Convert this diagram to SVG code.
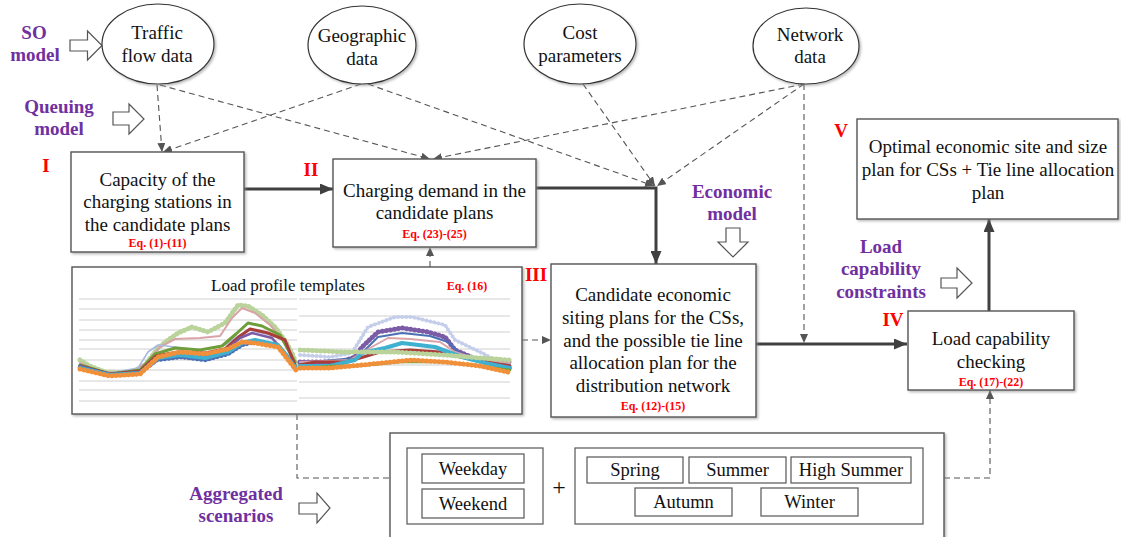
<svg xmlns="http://www.w3.org/2000/svg" width="1121" height="537" viewBox="0 0 1121 537">
<style>
text{font-family:"Liberation Serif","Times New Roman",serif;fill:#111;}
.t{font-size:19px;text-anchor:middle;}
.s{font-size:18.5px;text-anchor:middle;}
.p{font-size:19px;font-weight:bold;fill:#7030A0;text-anchor:middle;}
.r{font-size:19px;font-weight:bold;fill:#ff0000;text-anchor:middle;}
.eq{font-size:12px;font-weight:bold;fill:#ff0000;text-anchor:middle;}
.box{fill:#fff;stroke:#555;stroke-width:1.4;filter:url(#sh);}
.sbox{fill:#fff;stroke:#555;stroke-width:1.2;}
.ell{fill:#fff;stroke:#333;stroke-width:1.2;filter:url(#sh);}
.thick{fill:none;stroke:#404040;stroke-width:3;}
.dash{fill:none;stroke:#555;stroke-width:1.1;stroke-dasharray:6 4;}
.blk{fill:#fff;stroke:#555;stroke-width:1.2;}
.grid{stroke:#cfcfcf;stroke-width:1.2;}
.c polyline{fill:none;stroke-linejoin:round;stroke-linecap:round;}
.c .d{stroke-dasharray:0.1 4;}
</style>
<defs>
<filter id="sh" x="-10%" y="-10%" width="120%" height="130%">
<feDropShadow dx="1.5" dy="1.5" stdDeviation="1" flood-color="#888" flood-opacity="0.6"/>
</filter>
<marker id="ah" markerUnits="userSpaceOnUse" markerWidth="13" markerHeight="11" refX="13" refY="5.5" orient="auto">
<path d="M0,0 L13,5.5 L0,11 z" fill="#404040"/>
</marker>
<marker id="dh" markerUnits="userSpaceOnUse" markerWidth="9" markerHeight="8" refX="9" refY="4" orient="auto">
<path d="M0,0 L9,4 L0,8 z" fill="#555"/>
</marker>
</defs>
<rect width="1121" height="537" fill="#fff"/>

<g id="connectors">
<line class="dash" x1="157" y1="85" x2="162" y2="152" marker-end="url(#dh)"/>
<line class="dash" x1="361" y1="84" x2="163" y2="152" marker-end="url(#dh)"/>
<line class="dash" x1="160" y1="85" x2="430" y2="159" marker-end="url(#dh)"/>
<line class="dash" x1="804" y1="84" x2="433" y2="159" marker-end="url(#dh)"/>
<line class="dash" x1="368" y1="84" x2="654" y2="186" marker-end="url(#dh)"/>
<line class="dash" x1="583" y1="84" x2="655" y2="186" marker-end="url(#dh)"/>
<line class="dash" x1="804" y1="84" x2="657" y2="186" marker-end="url(#dh)"/>
<line class="dash" x1="804" y1="84" x2="804" y2="343" marker-end="url(#dh)"/>
<line class="thick" x1="244" y1="189" x2="333" y2="189" marker-end="url(#ah)"/>
<polyline class="thick" points="536,188 656,188 656,264" marker-end="url(#ah)"/>
<line class="thick" x1="756" y1="344" x2="907" y2="344" marker-end="url(#ah)"/>
<line class="thick" x1="989" y1="311" x2="989" y2="219" marker-end="url(#ah)"/>
<line class="dash" x1="430" y1="267" x2="430" y2="247" marker-end="url(#dh)"/>
<line class="dash" x1="522" y1="340" x2="551" y2="340" marker-end="url(#dh)"/>
<polyline class="dash" points="297,414 297,478 390,478"/>
<polyline class="dash" points="944,478 990,478 990,390" marker-end="url(#dh)"/>
</g>

<g id="model-labels">
<text class="p" x="34" y="39">SO</text>
<text class="p" x="35" y="61">model</text>
<path class="blk" d="M70,40 L87.5,40 L87.5,31 L102,45.5 L87.5,60 L87.5,51 L70,51 z"/>
<text class="p" x="59" y="113">Queuing</text>
<text class="p" x="59" y="135">model</text>
<path class="blk" d="M113,112 L129,112 L129,104 L144,119 L129,134 L129,125 L113,125 z"/>
<text class="p" x="732" y="198">Economic</text>
<text class="p" x="732" y="220">model</text>
<path class="blk" d="M726,228 L740,228 L740,242 L748,242 L733,257 L718,242 L726,242 z"/>
<text class="p" x="881" y="253">Load</text>
<text class="p" x="881" y="275">capability</text>
<text class="p" x="881" y="298">constraints</text>
<path class="blk" d="M941,278 L957,278 L957,268 L972,283 L957,298 L957,288 L941,288 z"/>
<text class="p" x="236" y="500">Aggregated</text>
<text class="p" x="236" y="522">scenarios</text>
<path class="blk" d="M299,503 L317,503 L317,493 L330,508 L317,523 L317,514 L299,514 z"/>
</g>

<g id="traffic-flow-data">
<ellipse class="ell" cx="158" cy="44" rx="56" ry="40"/>
<text class="t" x="157" y="39">Traffic</text>
<text class="t" x="157" y="62">flow data</text>
</g>
<g id="geographic-data">
<ellipse class="ell" cx="362" cy="45" rx="54" ry="39"/>
<text class="t" x="362" y="42">Geographic</text>
<text class="t" x="362" y="65">data</text>
</g>
<g id="cost-parameters">
<ellipse class="ell" cx="580" cy="44" rx="56" ry="40"/>
<text class="t" x="580" y="39">Cost</text>
<text class="t" x="580" y="62">parameters</text>
</g>
<g id="network-data">
<ellipse class="ell" cx="806" cy="46" rx="53" ry="38"/>
<text class="t" x="810" y="41">Network</text>
<text class="t" x="810" y="63">data</text>
</g>

<g id="box-I">
<rect class="box" x="71" y="152" width="173" height="100"/>
<text class="r" x="46" y="172">I</text>
<text class="t" x="157.5" y="186">Capacity of the</text>
<text class="t" x="157.5" y="208">charging stations in</text>
<text class="t" x="157.5" y="231">the candidate plans</text>
<text class="eq" x="157.5" y="247">Eq. (1)-(11)</text>
</g>
<g id="box-II">
<rect class="box" x="333" y="159" width="203" height="88"/>
<text class="r" x="311" y="176">II</text>
<text class="t" x="434.5" y="197">Charging demand in the</text>
<text class="t" x="434.5" y="219">candidate plans</text>
<text class="eq" x="434.5" y="238">Eq. (23)-(25)</text>
</g>
<g id="box-III">
<rect class="box" x="551" y="264" width="205" height="153"/>
<text class="r" x="536" y="281">III</text>
<text class="t" x="653" y="301">Candidate economic</text>
<text class="t" x="653" y="324">siting plans for the CSs,</text>
<text class="t" x="653" y="347">and the possible tie line</text>
<text class="t" x="653" y="369">allocation plan for the</text>
<text class="t" x="653" y="392">distribution network</text>
<text class="eq" x="653" y="410">Eq. (12)-(15)</text>
</g>
<g id="box-IV">
<rect class="box" x="908" y="311" width="166" height="79"/>
<text class="r" x="893" y="326">IV</text>
<text class="t" x="991" y="345">Load capability</text>
<text class="t" x="991" y="368">checking</text>
<text class="eq" x="991" y="386">Eq. (17)-(22)</text>
</g>
<g id="box-V">
<rect class="box" x="857" y="119" width="261" height="100"/>
<text class="r" x="841" y="137">V</text>
<text class="t" x="988" y="153">Optimal economic site and size</text>
<text class="t" x="988" y="176">plan for CSs + Tie line allocation</text>
<text class="t" x="988" y="199">plan</text>
</g>

<g id="load-profile-templates">
<rect class="box" x="72" y="267" width="450" height="147"/>
<g class="grid">
<line x1="79" y1="299" x2="297" y2="299"/><line x1="79" y1="309" x2="297" y2="309"/>
<line x1="79" y1="320" x2="297" y2="320"/><line x1="79" y1="330" x2="297" y2="330"/>
<line x1="79" y1="340" x2="297" y2="340"/><line x1="79" y1="349" x2="297" y2="349"/>
<line x1="79" y1="360" x2="297" y2="360"/><line x1="79" y1="370" x2="297" y2="370"/>
<line x1="79" y1="381" x2="297" y2="381"/><line x1="79" y1="390" x2="297" y2="390"/>
<line x1="79" y1="401" x2="297" y2="401"/>
<line x1="299" y1="299" x2="510" y2="299"/><line x1="299" y1="316" x2="510" y2="316"/>
<line x1="299" y1="332" x2="510" y2="332"/><line x1="299" y1="349" x2="510" y2="349"/>
<line x1="299" y1="365" x2="510" y2="365"/><line x1="299" y1="382" x2="510" y2="382"/>
<line x1="299" y1="398" x2="510" y2="398"/>
</g>
<g class="c">
<polyline stroke="#b9d39a" stroke-width="3" points="80,360 90,366 105,372 130,373 145,365 158,348 168,340 178,333 192,327 208,332 225,323 238,305 248,306 262,315 275,327 286,342 293,355 297,367"/>
<polyline class="d" stroke="#b9d39a" stroke-width="5" points="80,360 90,366 105,372 130,373 145,365 158,348 168,340 178,333 192,327 208,332 225,323 238,305 248,306 262,315 275,327 286,342 293,355 297,367"/>
<polyline stroke="#d9a3a8" stroke-width="2" points="80,363 100,372 130,373 147,362 160,347 175,339 200,338 220,336 232,318 242,308 255,313 270,325 285,342 295,362"/>
<polyline stroke="#a9b8e0" stroke-width="1.6" points="80,365 110,373 138,368 148,352 158,345 175,347 200,350 225,345 240,335 250,330 270,335 293,360"/>
<polyline stroke="#6e9e3a" stroke-width="3" points="80,365 110,374 140,370 155,354 175,348 200,350 222,346 236,334 248,323 262,326 280,335 295,362"/>
<polyline stroke="#a93d3a" stroke-width="3" points="80,366 110,374 140,371 156,356 178,352 205,353 225,349 240,336 250,329 268,333 285,340 295,365"/>
<polyline stroke="#7b5aa6" stroke-width="2.5" points="80,366 110,375 140,372 157,357 180,354 205,356 226,350 240,338 252,333 272,338 295,366"/>
<polyline stroke="#4a6fb5" stroke-width="2.5" points="80,367 110,375 140,373 157,360 180,357 205,360 228,354 242,345 255,342 278,346 295,367"/>
<polyline class="d" stroke="#4a6fb5" stroke-width="4.5" points="80,367 110,375 140,373 157,360 180,357 205,360 228,354 242,345 255,342 278,346 295,367"/>
<polyline stroke="#3fb0d0" stroke-width="4" points="80,368 110,375 140,373 158,358 180,355 205,358 228,352 242,343 255,340 278,345 295,367"/>
<polyline stroke="#f0903a" stroke-width="2.5" points="80,369 110,376 140,374 158,357 180,352 205,354 228,349 242,342 255,343 278,347 296,370"/>
<polyline class="d" stroke="#f0903a" stroke-width="5" points="80,369 110,376 140,374 158,357 180,352 205,354 228,349 242,342 255,343 278,347 296,370"/>
<polyline stroke="#a9b8e0" stroke-width="1.6" points="300,355 330,357 352,353 368,327 395,317 412,317 445,325 455,340 482,353 495,360 510,360"/>
<polyline class="d" stroke="#c5cfea" stroke-width="4" points="300,355 330,357 352,353 368,327 395,317 412,317 445,325 455,340 482,353 495,360 510,360"/>
<polyline stroke="#7b5aa6" stroke-width="3" points="300,362 340,362 355,357 362,347 378,332 402,328 428,332 445,337 455,350 478,360 510,362"/>
<polyline class="d" stroke="#7b5aa6" stroke-width="5" points="300,362 340,362 355,357 362,347 378,332 402,328 428,332 445,337 455,350 478,360 510,362"/>
<polyline stroke="#4a6fb5" stroke-width="2" points="300,363 355,358 365,350 378,337 402,333 430,336 448,342 458,352 480,361 510,364"/>
<polyline stroke="#d9a3a8" stroke-width="2" points="300,362 350,360 370,348 388,338 410,339 440,342 455,352 480,360 510,363"/>
<polyline stroke="#a93d3a" stroke-width="3" points="300,365 315,362 345,362 360,358 380,352 410,350 440,352 455,356 480,361 510,366"/>
<polyline stroke="#3fb0d0" stroke-width="4" points="300,366 330,366 355,360 362,353 385,348 402,343 435,347 462,357 485,363 510,368"/>
<polyline stroke="#b9d39a" stroke-width="3" points="300,350 345,352 395,352 445,355 480,358 510,360"/>
<polyline class="d" stroke="#b9d39a" stroke-width="5" points="300,350 345,352 395,352 445,355 480,358 510,360"/>
<polyline stroke="#6e9e3a" stroke-width="2.5" points="300,369 330,366 360,366 400,362 440,362 480,366 510,370"/>
<polyline stroke="#f0903a" stroke-width="3" points="300,368 330,368 362,365 412,360 445,362 480,366 508,372"/>
<polyline class="d" stroke="#f0903a" stroke-width="5" points="300,368 330,368 362,365 412,360 445,362 480,366 508,372"/>
</g>
<text x="288" y="291" style="font-size:17px;text-anchor:middle">Load profile templates</text>
<text class="eq" x="467" y="290">Eq. (16)</text>
</g>

<g id="aggregated-scenarios">
<rect class="box" x="390" y="433" width="554" height="110"/>
<rect class="sbox" x="407" y="448" width="136" height="76"/>
<rect class="sbox" x="422" y="454" width="102" height="29"/>
<text class="s" x="473" y="475">Weekday</text>
<rect class="sbox" x="422" y="489" width="102" height="29"/>
<text class="s" x="473" y="510">Weekend</text>
<text x="559" y="495" style="font-size:24px;text-anchor:middle">+</text>
<rect class="sbox" x="575" y="448" width="348" height="76"/>
<rect class="sbox" x="587" y="457" width="96" height="26"/>
<text class="s" x="635" y="476">Spring</text>
<rect class="sbox" x="689" y="457" width="97" height="26"/>
<text class="s" x="737.5" y="476">Summer</text>
<rect class="sbox" x="791" y="457" width="120" height="26"/>
<text class="s" x="851" y="476">High Summer</text>
<rect class="sbox" x="635" y="488" width="97" height="28"/>
<text class="s" x="683.5" y="508">Autumn</text>
<rect class="sbox" x="761" y="488" width="97" height="28"/>
<text class="s" x="809.5" y="508">Winter</text>
</g>
</svg>
